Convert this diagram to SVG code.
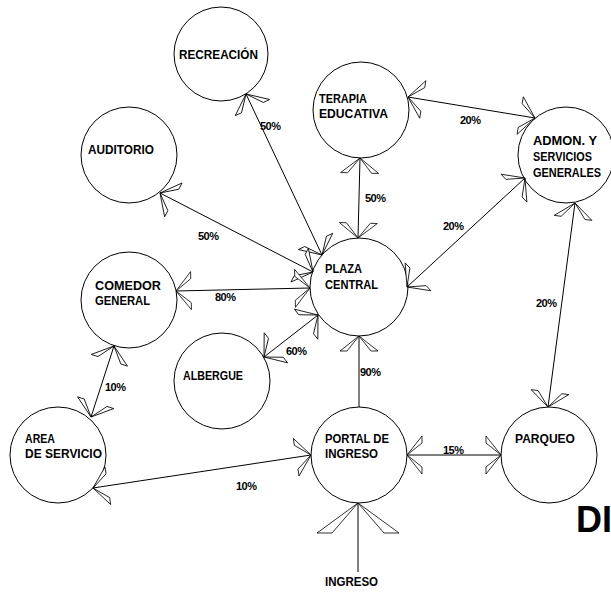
<svg xmlns="http://www.w3.org/2000/svg" width="611" height="594" viewBox="0 0 611 594">
<style>
.n{fill:#fff;stroke:#000;stroke-width:1}
.t{font-family:"Liberation Sans",Arial,sans-serif;font-weight:bold;font-size:12px;fill:#000}
.p{font-family:"Liberation Sans",Arial,sans-serif;font-weight:bold;font-size:11px;fill:#000;letter-spacing:-0.5px}
.c{fill:none;stroke:#000;stroke-width:1}
</style>
<defs>
<marker id="a" markerUnits="userSpaceOnUse" markerWidth="50" markerHeight="50" refX="0" refY="0" orient="auto-start-reverse" overflow="visible">
<path d="M0,0 L-15,-19 L-15,-12 Z M0,0 L-15,19 L-15,12 Z" fill="#fff" stroke="#000" stroke-width="0.8"/>
</marker>
<marker id="b" markerUnits="userSpaceOnUse" markerWidth="100" markerHeight="100" refX="0" refY="0" orient="auto" overflow="visible">
<path d="M0,0 L-30,-41 L-30,-26 Z M0,0 L-30,41 L-30,26 Z" fill="#fff" stroke="#000" stroke-width="0.8"/>
</marker>
</defs>
<rect width="611" height="594" fill="#fff"/>
<g id="nodes">
<g id="recreacion"><circle class="n" cx="221" cy="54" r="47"/><text class="t" x="179" y="59" textLength="79" lengthAdjust="spacingAndGlyphs">RECREACIÓN</text></g>
<g id="terapia"><circle class="n" cx="361" cy="110" r="48"/><text class="t" x="319" y="103" textLength="48" lengthAdjust="spacingAndGlyphs">TERAPIA</text><text class="t" x="319" y="118" textLength="69" lengthAdjust="spacingAndGlyphs">EDUCATIVA</text></g>
<g id="admon"><circle class="n" cx="566" cy="155" r="48"/><text class="t" x="533" y="145" textLength="64" lengthAdjust="spacingAndGlyphs">ADMON. Y</text><text class="t" x="533" y="161" textLength="59" lengthAdjust="spacingAndGlyphs">SERVICIOS</text><text class="t" x="533" y="177" textLength="68" lengthAdjust="spacingAndGlyphs">GENERALES</text></g>
<g id="auditorio"><circle class="n" cx="129" cy="155" r="48"/><text class="t" x="88" y="154" textLength="66" lengthAdjust="spacingAndGlyphs">AUDITORIO</text></g>
<g id="plaza"><circle class="n" cx="359" cy="287" r="49"/><text class="t" x="325" y="273" textLength="37" lengthAdjust="spacingAndGlyphs">PLAZA</text><text class="t" x="325" y="289" textLength="53" lengthAdjust="spacingAndGlyphs">CENTRAL</text></g>
<g id="comedor"><circle class="n" cx="129" cy="300" r="48"/><text class="t" x="95" y="290" textLength="66" lengthAdjust="spacingAndGlyphs">COMEDOR</text><text class="t" x="95" y="305" textLength="55" lengthAdjust="spacingAndGlyphs">GENERAL</text></g>
<g id="albergue"><circle class="n" cx="222" cy="381" r="48"/><text class="t" x="183" y="380" textLength="60" lengthAdjust="spacingAndGlyphs">ALBERGUE</text></g>
<g id="area"><circle class="n" cx="58" cy="455" r="48"/><text class="t" x="25" y="443" textLength="30" lengthAdjust="spacingAndGlyphs">AREA</text><text class="t" x="25" y="458" textLength="77" lengthAdjust="spacingAndGlyphs">DE SERVICIO</text></g>
<g id="portal"><circle class="n" cx="359" cy="455" r="48"/><text class="t" x="325" y="443" textLength="64" lengthAdjust="spacingAndGlyphs">PORTAL DE</text><text class="t" x="325" y="458" textLength="53" lengthAdjust="spacingAndGlyphs">INGRESO</text></g>
<g id="parqueo"><circle class="n" cx="549" cy="455" r="48"/><text class="t" x="515" y="443" textLength="60" lengthAdjust="spacingAndGlyphs">PARQUEO</text></g>
<g id="ingreso"><text class="t" x="325" y="586" textLength="53" lengthAdjust="spacingAndGlyphs">INGRESO</text></g>
</g>
<g id="connectors">
<line class="c" x1="246" y1="94" x2="322" y2="255" marker-start="url(#a)" marker-end="url(#a)"/>
<line class="c" x1="160" y1="193" x2="313" y2="272" marker-start="url(#a)" marker-end="url(#a)"/>
<line class="c" x1="176" y1="291" x2="310" y2="288" marker-start="url(#a)" marker-end="url(#a)"/>
<line class="c" x1="360" y1="158" x2="358" y2="238" marker-start="url(#a)" marker-end="url(#a)"/>
<line class="c" x1="408" y1="97" x2="535" y2="118" marker-start="url(#a)" marker-end="url(#a)"/>
<line class="c" x1="407" y1="287" x2="525" y2="178" marker-start="url(#a)" marker-end="url(#a)"/>
<line class="c" x1="575" y1="203" x2="548" y2="407" marker-start="url(#a)" marker-end="url(#a)"/>
<line class="c" x1="114" y1="346" x2="91" y2="417" marker-start="url(#a)" marker-end="url(#a)"/>
<line class="c" x1="318" y1="315" x2="264" y2="357" marker-start="url(#a)" marker-end="url(#a)"/>
<line class="c" x1="359" y1="407" x2="359" y2="336" marker-end="url(#a)"/>
<line class="c" x1="93" y1="488" x2="311" y2="455" marker-start="url(#a)" marker-end="url(#a)"/>
<line class="c" x1="407" y1="455" x2="501" y2="455" marker-start="url(#a)" marker-end="url(#a)"/>
<line class="c" x1="358" y1="572" x2="358" y2="503" marker-end="url(#b)"/>
<text class="p" x="260" y="130">50%</text>
<text class="p" x="198" y="240">50%</text>
<text class="p" x="215" y="301">80%</text>
<text class="p" x="365" y="202">50%</text>
<text class="p" x="460" y="124">20%</text>
<text class="p" x="443" y="230">20%</text>
<text class="p" x="536" y="307">20%</text>
<text class="p" x="105" y="391">10%</text>
<text class="p" x="286" y="355">60%</text>
<text class="p" x="360" y="376">90%</text>
<text class="p" x="236" y="490">10%</text>
<text class="p" x="443" y="454">15%</text>
</g>
<text x="576" y="532" font-family="Liberation Sans,Arial,sans-serif" font-weight="bold" font-size="36" fill="#000">DI</text>
</svg>
